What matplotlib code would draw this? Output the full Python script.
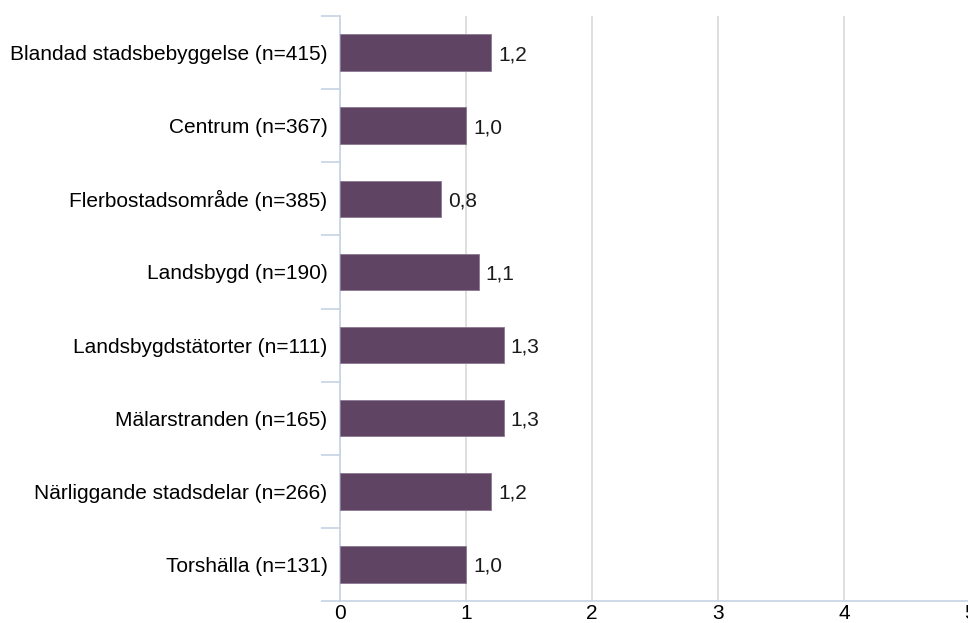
import numpy as np
import matplotlib.pyplot as plt

plt.rcParams['font.family'] = ['Liberation Sans', 'DejaVu Sans']

categories = ["Blandad stadsbebyggelse (n=415)", "Centrum (n=367)",
              "Flerbostadsområde (n=385)", "Landsbygd (n=190)",
              "Landsbygdstätorter (n=111)", "Mälarstranden (n=165)",
              "Närliggande stadsdelar (n=266)", "Torshälla (n=131)"]
values = [1.2, 1.0, 0.8, 1.1, 1.3, 1.3, 1.2, 1.0]
xticks = [0, 1, 2, 3, 4, 5]

bar_color = "#5f4563"
spine_color = "#c5d3e3"
grid_color = "#d9d9d9"
fs = 15

fig = plt.figure(figsize=(9.68, 6.23), dpi=100)
ax = fig.add_axes([340/968, 22/623, 630/968, 585/623])

y = np.arange(len(categories))
ax.barh(y, values, height=0.5, color=bar_color, edgecolor="#8a7890", linewidth=0.6, zorder=3)
for yi, v in zip(y, values):
    ax.text(v + 0.055, yi, f"{v:.1f}".replace(".", ","), va="center_baseline", ha="left",
            fontsize=fs, color="#1a1a1a")

ax.set_xlim(0, 5)
ax.set_ylim(len(categories) - 0.5, -0.5)
ax.set_xticks(xticks)
ax.set_xticklabels([str(t) for t in xticks], fontsize=fs)
ax.set_yticks(y)
ax.set_yticklabels(categories, fontsize=fs)
ax.tick_params(axis='y', length=0, pad=9)
ax.tick_params(axis='x', length=0, pad=2)
ax.set_yticks(np.arange(-0.5, len(categories) + 0.5, 1), minor=True)
ax.tick_params(axis='y', which='minor', length=14, width=1.2, color=spine_color)

ax.grid(axis='x', color=grid_color, linewidth=1.2, zorder=0)
ax.set_axisbelow(True)
for s in ['top', 'right']:
    ax.spines[s].set_visible(False)
for s in ['left', 'bottom']:
    ax.spines[s].set_color(spine_color)
    ax.spines[s].set_linewidth(1.2)

fig.savefig("out.png", dpi=100)
